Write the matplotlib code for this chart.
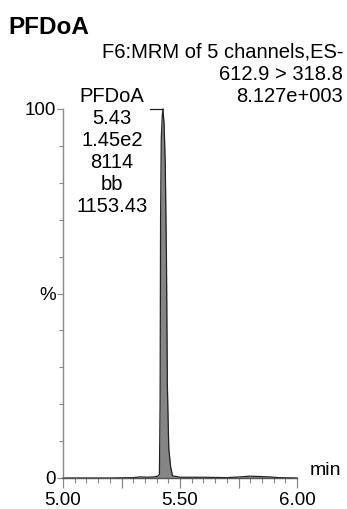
import matplotlib
matplotlib.use("Agg")
import matplotlib.pyplot as plt
from matplotlib.ticker import MultipleLocator, FixedLocator

plt.rcParams['font.family'] = ['Liberation Sans', 'DejaVu Sans']

# Data
times = [5.00, 5.20, 5.30, 5.33, 5.36, 5.39, 5.405, 5.412, 5.415, 5.417, 5.420,
         5.424, 5.427, 5.432, 5.437, 5.442, 5.446, 5.452, 5.460, 5.468, 5.50,
         5.60, 5.70, 5.76, 5.80, 5.84, 5.88, 5.92, 6.00]
intensity = [0.0, 0.0, 0.1, 0.3, 0.2, 0.3, 0.5, 1.0, 20, 70, 92,
             98, 100, 96, 85, 60, 25, 8, 3, 0.6, 0.2,
             0.2, 0.1, 0.3, 0.5, 0.4, 0.3, 0.1, 0.0]

title = "PFDoA"
header = ["F6:MRM of 5 channels,ES-", "612.9 > 318.8", "8.127e+003"]
peak_label = ["PFDoA", "5.43", "1.45e2", "8114", "bb", "1153.43"]
peak_rt = 5.427
xtick_major = [5.00, 5.25, 5.50, 5.75, 6.00]
xtick_labels = {5.00: "5.00", 5.50: "5.50", 6.00: "6.00"}
ytick_major = [0, 50, 100]
ytick_labels = ["0", "%", "100"]

fig = plt.figure(figsize=(3.47, 5.09), dpi=100)
ax = fig.add_axes([63/347, 1-478/509, (297-63)/347, (478-109)/509])

ax.fill_between(times, intensity, 0, color="#858585", linewidth=0, clip_on=False)
ax.plot(times, intensity, color="#222222", linewidth=0.9, clip_on=False)

ax.set_xlim(5.0, 6.0)
ax.set_ylim(0, 100)

for s in ["top", "right"]:
    ax.spines[s].set_visible(False)
for s in ["left", "bottom"]:
    ax.spines[s].set_color("#8a8a8a")
    ax.spines[s].set_linewidth(1.0)
ax.spines["bottom"].set_color("#555555")

ax.xaxis.set_major_locator(FixedLocator(xtick_major))
ax.set_xticklabels([xtick_labels.get(v, "") for v in xtick_major])
ax.xaxis.set_minor_locator(MultipleLocator(0.05))
ax.yaxis.set_major_locator(FixedLocator(ytick_major))
ax.set_yticklabels(ytick_labels)
ax.yaxis.set_minor_locator(MultipleLocator(10))

ax.tick_params(axis="x", which="major", length=7, width=0.9, color="#8a8a8a",
               labelsize=13.5, pad=3)
ax.tick_params(axis="x", which="minor", length=3.5, width=0.8, color="#8a8a8a")
ax.tick_params(axis="y", which="major", length=4, width=0.8, color="#8a8a8a",
               labelsize=13.5, pad=1)
ax.tick_params(axis="y", which="minor", length=3, width=0.8, color="#8a8a8a")

ax.text(1.055, 0.02, "min", transform=ax.transAxes, fontsize=14,
        ha="left", va="center")

# Title and header
fig.text(8/347, 1-28/509, title, fontsize=17.5, fontweight="bold",
         ha="left", va="center")
for i, line in enumerate(header):
    fig.text(343/347, 1-(52+22*i)/509, line, fontsize=14.5, ha="right", va="center")

# Peak label
for i, line in enumerate(peak_label):
    fig.text(112/347, 1-(97+22*i)/509, line, fontsize=14.5, ha="center", va="center")

# leader line from label to peak apex
ax.plot([5.373, peak_rt], [100, 100], color="#222222", linewidth=0.9, clip_on=False)

fig.savefig("out.png", dpi=100)
